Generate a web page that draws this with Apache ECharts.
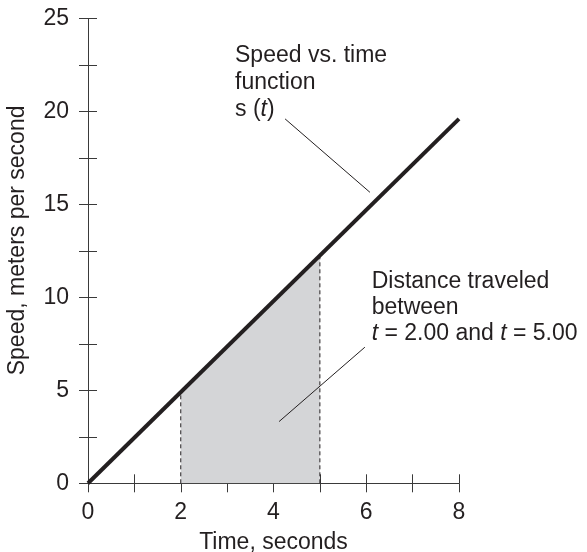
<!DOCTYPE html>
<html>
<head>
<meta charset="utf-8">
<script src="https://cdn.jsdelivr.net/npm/echarts@6/dist/echarts.min.js"></script>
<style>html,body{margin:0;padding:0;background:#fff;}#c{width:587px;height:552px;}</style>
</head>
<body>
<div id="c"></div>
<script>
// Data
const lineTime = [0, 8];
const lineSpeed = [0, 19.6];
const shadeTime = [2, 5];
const shadeSpeed = [4.9, 12.25];
const xTicks = [0, 2, 4, 6, 8];
const yTicks = [0, 5, 10, 15, 20, 25];
const leaderFnTime = [4.25, 6.08];
const leaderFnSpeed = [19.6, 15.65];
const leaderAreaTime = [4.12, 5.97];
const leaderAreaSpeed = [3.32, 7.32];

const FONT = '"Liberation Sans", Arial, Helvetica, sans-serif';
const INK = '#231f20';
const AX = '#3a3a3a';
const FS = 23;

const pairs = (xs, ys) => xs.map((x, i) => [x, ys[i]]);

const chart = echarts.init(document.getElementById('c'), null, {renderer: 'canvas'});

const xBase = {
  type: 'value', min: 0, max: 8, interval: 1, position: 'bottom',
  splitLine: {show: false}
};
const yBase = {
  type: 'value', min: 0, max: 25, interval: 2.5, position: 'left',
  splitLine: {show: false}
};

const option = {
  animation: false,
  backgroundColor: '#ffffff',
  textStyle: {fontFamily: FONT, color: INK},
  grid: {left: 88, right: 128, top: 18.5, bottom: 68.7, containLabel: false, outerBoundsMode: 'none'},
  xAxis: [
    Object.assign({}, xBase, {
      axisLine: {show: true, lineStyle: {color: AX, width: 1}},
      axisTick: {show: true, inside: false, length: 9, lineStyle: {color: AX, width: 1}},
      axisLabel: {
        show: true, margin: 18, fontSize: FS, fontFamily: FONT, color: INK,
        formatter: v => xTicks.indexOf(v) >= 0 ? String(v) : ''
      },
      name: 'Time, seconds', nameLocation: 'middle', nameGap: 48,
      nameTextStyle: {fontSize: FS, fontFamily: FONT, color: INK}
    }),
    Object.assign({}, xBase, {
      axisLine: {show: false},
      axisTick: {show: true, inside: true, length: 9, lineStyle: {color: AX, width: 1}},
      axisLabel: {show: false}
    })
  ],
  yAxis: [
    Object.assign({}, yBase, {
      axisLine: {show: true, lineStyle: {color: AX, width: 1}},
      axisTick: {show: true, inside: false, length: 9, lineStyle: {color: AX, width: 1}},
      axisLabel: {
        show: true, margin: 19, fontSize: FS, fontFamily: FONT, color: INK,
        formatter: v => yTicks.indexOf(v) >= 0 ? String(v) : ''
      },
      name: 'Speed, meters per second', nameLocation: 'middle', nameGap: 59,
      nameTextStyle: {fontSize: FS, fontFamily: FONT, color: INK, padding: [0, 0, 0, 21]}
    }),
    Object.assign({}, yBase, {
      axisLine: {show: false},
      axisTick: {show: true, inside: true, length: 9, lineStyle: {color: AX, width: 1}},
      axisLabel: {show: false}
    })
  ],
  series: [
    {
      type: 'line', name: 'area', data: pairs(shadeTime, shadeSpeed),
      symbol: 'none', lineStyle: {width: 0, opacity: 0},
      areaStyle: {color: '#d4d5d7', opacity: 1}, z: 1, silent: true
    },
    {
      type: 'line', name: 'dash2', data: [[shadeTime[0], 0], [shadeTime[0], shadeSpeed[0]]],
      symbol: 'none', lineStyle: {color: INK, width: 1, type: [4, 3]}, z: 2, silent: true
    },
    {
      type: 'line', name: 'dash5', data: [[shadeTime[1], 0], [shadeTime[1], shadeSpeed[1]]],
      symbol: 'none', lineStyle: {color: INK, width: 1, type: [4, 3]}, z: 2, silent: true
    },
    {
      type: 'line', name: 'leader1', data: pairs(leaderFnTime, leaderFnSpeed),
      symbol: 'none', lineStyle: {color: INK, width: 1}, z: 3, silent: true
    },
    {
      type: 'line', name: 'leader2', data: pairs(leaderAreaTime, leaderAreaSpeed),
      symbol: 'none', lineStyle: {color: INK, width: 1}, z: 3, silent: true
    },
    {
      type: 'line', name: 's(t)', data: pairs(lineTime, lineSpeed),
      symbol: 'none', lineStyle: {color: INK, width: 4, cap: 'butt'}, z: 4, silent: true
    }
  ],
  graphic: [
    {
      type: 'text', left: 235, top: 42, z: 10,
      style: {
        text: 'Speed vs. time\nfunction\n{n|s (}{i|t}{n|)}',
        font: FS + 'px ' + FONT, fill: INK, lineHeight: 27,
        rich: {
          n: {fontSize: FS, fontFamily: FONT, fill: INK, lineHeight: 27},
          i: {fontSize: FS, fontFamily: FONT, fontStyle: 'italic', fill: INK, lineHeight: 27}
        }
      }
    },
    {
      type: 'text', left: 371.7, top: 269, z: 10,
      style: {
        text: 'Distance traveled\nbetween\n{i|t}{n| = 2.00 and }{i|t}{n| = 5.00}',
        font: FS + 'px ' + FONT, fill: INK, lineHeight: 26,
        rich: {
          n: {fontSize: FS, fontFamily: FONT, fill: INK, lineHeight: 26},
          i: {fontSize: FS, fontFamily: FONT, fontStyle: 'italic', fill: INK, lineHeight: 26}
        }
      }
    }
  ]
};
chart.setOption(option);
</script>
</body>
</html>
